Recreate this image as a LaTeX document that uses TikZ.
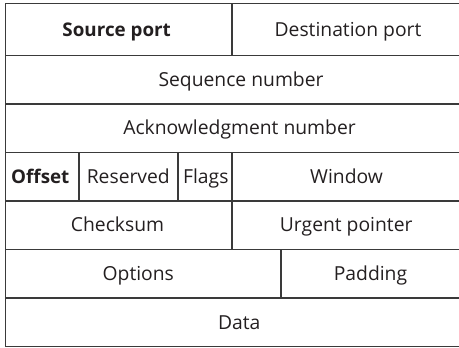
\documentclass[tikz,border=0pt]{standalone}
\usepackage{fontspec}
\setmainfont{Open Sans}
\definecolor{linegray}{HTML}{3A3A3A}
\definecolor{textgray}{HTML}{231F20}
\begin{document}
\begin{tikzpicture}[x=1pt,y=1pt,
  rule/.style={line width=1.3pt, draw=linegray},
  lbl/.style={anchor=base, inner sep=0pt, font=\fontsize{19.3}{20}\selectfont, text=textgray},
  blbl/.style={lbl, font=\fontsize{18.8}{20}\selectfont\bfseries}]
\useasboundingbox (0,0) rectangle (459,348);
% outer frame (open on the right)
\draw[rule] (459,344.5) -- (5.3,344.5) -- (5.3,1.3) -- (459,1.3);
% row separators
\foreach \y in {292.3,244,195.7,147,98.7,50}
  \draw[rule] (5.3,\y) -- (459,\y);
% column separators
\draw[rule] (232,344.5) -- (232,292.3);
\draw[rule] (232,195.7) -- (232,98.7);
\draw[rule] (79,195.7) -- (79,147);
\draw[rule] (178,195.7) -- (178,147);
\draw[rule] (281,98.7) -- (281,50);
% labels
\node[blbl] (src) at (116.7,311.7) {Source port};
\node[lbl] (dst) at (348,311.7) {Destination port};
\node[lbl] (seq) at (241,261.45) {Sequence number};
\node[lbl] (ack) at (239.5,213.15) {Acknowledgment number};
\node[blbl] (off) at (40.3,164.65) {Offset};
\node[lbl] (res) at (128.3,164.65) {Reserved};
\node[lbl] (flg) at (205.8,164.65) {Flags};
\node[lbl] (win) at (346.5,164.65) {Window};
\node[lbl] (chk) at (117.5,116.15) {Checksum};
\node[lbl] (urg) at (346.2,116.15) {Urgent pointer};
\node[lbl] (opt) at (138.3,67.65) {Options};
\node[lbl] (pad) at (370.5,67.65) {Padding};
\node[lbl] (dat) at (239.2,18.95) {Data};
\end{tikzpicture}
\end{document}
